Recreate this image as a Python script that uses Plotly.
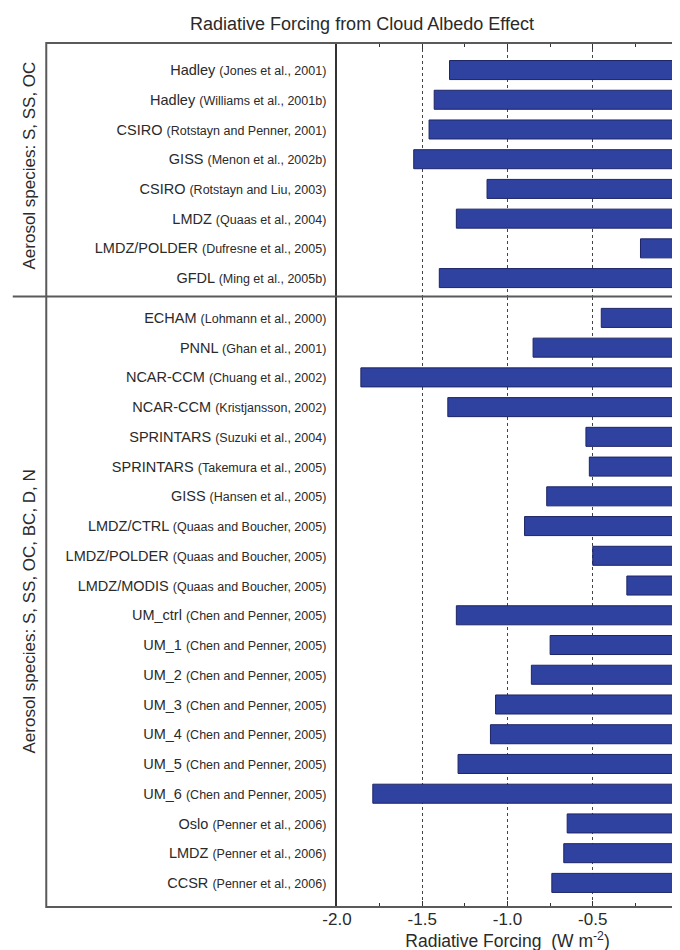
import plotly.graph_objects as go

# ---- data ----
group1_models = ["Hadley", "Hadley", "CSIRO", "GISS", "CSIRO", "LMDZ", "LMDZ/POLDER", "GFDL"]
group1_refs = ["(Jones et al., 2001)", "(Williams et al., 2001b)", "(Rotstayn and Penner, 2001)",
               "(Menon et al., 2002b)", "(Rotstayn and Liu, 2003)", "(Quaas et al., 2004)",
               "(Dufresne et al., 2005)", "(Ming et al., 2005b)"]
group1_values = [-1.34, -1.43, -1.46, -1.55, -1.12, -1.30, -0.22, -1.40]

group2_models = ["ECHAM", "PNNL", "NCAR-CCM", "NCAR-CCM", "SPRINTARS", "SPRINTARS", "GISS",
                 "LMDZ/CTRL", "LMDZ/POLDER", "LMDZ/MODIS", "UM_ctrl", "UM_1", "UM_2", "UM_3",
                 "UM_4", "UM_5", "UM_6", "Oslo", "LMDZ", "CCSR"]
group2_refs = ["(Lohmann et al., 2000)", "(Ghan et al., 2001)", "(Chuang et al., 2002)",
               "(Kristjansson, 2002)", "(Suzuki et al., 2004)", "(Takemura et al., 2005)",
               "(Hansen et al., 2005)", "(Quaas and Boucher, 2005)", "(Quaas and Boucher, 2005)",
               "(Quaas and Boucher, 2005)", "(Chen and Penner, 2005)", "(Chen and Penner, 2005)",
               "(Chen and Penner, 2005)", "(Chen and Penner, 2005)", "(Chen and Penner, 2005)",
               "(Chen and Penner, 2005)", "(Chen and Penner, 2005)", "(Penner et al., 2006)",
               "(Penner et al., 2006)", "(Penner et al., 2006)"]
group2_values = [-0.45, -0.85, -1.86, -1.35, -0.54, -0.52, -0.77, -0.90, -0.50, -0.30,
                 -1.30, -0.75, -0.86, -1.07, -1.10, -1.29, -1.79, -0.65, -0.67, -0.74]

group_titles = ["Aerosol species: S, SS, OC", "Aerosol species: S, SS, OC, BC, D, N"]
x_tickvals = [-2.0, -1.5, -1.0, -0.5, 0.0]
x_ticktext = ["-2.0", "-1.5", "-1.0", "-0.5", "0"]

# ---- style ----
FONT = "Liberation Sans, Arial, sans-serif"
TXT = "#2a2a2a"
BAR = "#3042a0"
BAR_EDGE = "#1d2566"
FRAME = "#5a5a5a"
REF_SIZE = 12.5

def make_labels(models, refs):
    return [f"{m} <span style='font-size:{REF_SIZE}px'>{r}</span>" for m, r in zip(models, refs)]

labels1 = make_labels(group1_models, group1_refs)
labels2 = make_labels(group2_models, group2_refs)

W, H = 680, 950
ML, MR, MT, MB = 329, 5, 35, 51
plot_h = H - MT - MB
plot_w = W - ML - MR
split = (H - MB - 288.5) / plot_h  # paper y of separator

fig = go.Figure()
fig.add_trace(go.Bar(x=group1_values, y=labels1, orientation="h", width=0.64,
                     marker=dict(color=BAR, line=dict(color=BAR_EDGE, width=1)),
                     xaxis="x", yaxis="y", showlegend=False, hoverinfo="x+y"))
fig.add_trace(go.Bar(x=group2_values, y=labels2, orientation="h", width=0.64,
                     marker=dict(color=BAR, line=dict(color=BAR_EDGE, width=1)),
                     xaxis="x2", yaxis="y2", showlegend=False, hoverinfo="x+y"))

grid = dict(showgrid=True, gridcolor="#444444", griddash="3px,3px", gridwidth=1)
common_x = dict(range=[-2.0, 0.0], tickvals=x_tickvals, ticks="inside", ticklen=6,
                tickcolor="#333", tickwidth=1.2, zeroline=False, showline=False,
                minor=dict(dtick=0.25, tick0=0, ticks="inside", ticklen=4, tickcolor="#333",
                           showgrid=False),
                **grid)

fig.update_layout(
    width=W, height=H,
    margin=dict(l=ML, r=MR, t=MT, b=MB),
    paper_bgcolor="white", plot_bgcolor="white",
    font=dict(family=FONT, color=TXT),
    bargap=0.3,
    title=dict(text="Radiative Forcing from Cloud Albedo Effect", x=354 / W, xanchor="center",
               y=1 - 16 / H, yanchor="middle", yref="container",
               font=dict(size=18, family=FONT, color=TXT)),
    xaxis=dict(domain=[0, 1], anchor="y", side="top", showticklabels=False, **common_x),
    xaxis2=dict(domain=[0, 1], anchor="y2", side="bottom", ticktext=x_ticktext,
                tickfont=dict(size=17, family=FONT, color=TXT),
                title=dict(text="Radiative Forcing  (W m<sup>-2</sup>)", standoff=4,
                           font=dict(size=17.5, family=FONT, color=TXT)),
                **common_x),
    yaxis=dict(domain=[split, 1], anchor="x", type="category", categoryorder="array",
               categoryarray=labels1, range=[len(labels1) - 1 + 0.62, -0.91],
               showline=True, linecolor="#333", linewidth=1.5, ticks="", ticklabelstandoff=6,
               showgrid=False, tickfont=dict(size=14.5, family=FONT, color=TXT)),
    yaxis2=dict(domain=[0, split], anchor="x2", type="category", categoryorder="array",
                categoryarray=labels2, range=[len(labels2) - 1 + 0.81, -0.72],
                showline=True, linecolor="#333", linewidth=1.5, ticks="", ticklabelstandoff=6,
                showgrid=False, tickfont=dict(size=14.5, family=FONT, color=TXT)),
)

left_frame = (34 - ML) / plot_w
far_left = (0 - ML) / plot_w
fig.add_shape(type="rect", xref="paper", yref="paper", x0=left_frame, x1=1, y0=0, y1=1,
              line=dict(color=FRAME, width=2), layer="above")
fig.add_shape(type="line", xref="paper", yref="paper", x0=far_left, x1=1, y0=split, y1=split,
              line=dict(color=FRAME, width=2), layer="above")

label_x = (16 - ML) / plot_w
for title, ypix in zip(group_titles, [158, 604]):
    fig.add_annotation(text=title, xref="paper", yref="paper", x=label_x,
                       y=(H - MB - ypix) / plot_h, textangle=-90, showarrow=False,
                       xanchor="center", yanchor="middle",
                       font=dict(size=17, family=FONT, color=TXT))

fig.write_html("out.html")
